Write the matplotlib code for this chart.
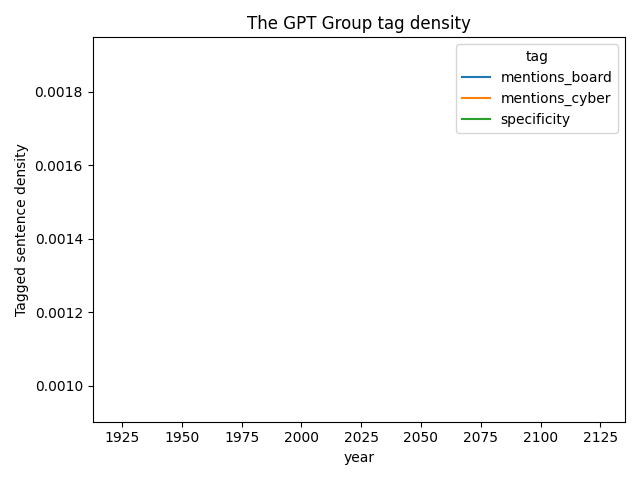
import matplotlib
matplotlib.use('Agg')
import matplotlib.pyplot as plt

# One filing year only, so each series is a single point (lines don't show)
years = [2024]
tags = ['mentions_board', 'mentions_cyber', 'specificity']
mentions_board = [0.00095]
mentions_cyber = [0.0019]
specificity = [0.0014]

series = {
    'mentions_board': mentions_board,
    'mentions_cyber': mentions_cyber,
    'specificity': specificity,
}

fig, ax = plt.subplots(figsize=(6.4, 4.8), dpi=100)
for tag in tags:
    ax.plot(years, series[tag], label=tag)

ax.set_title('The GPT Group tag density')
ax.set_xlabel('year')
ax.set_ylabel('Tagged sentence density')
ax.legend(title='tag')
fig.tight_layout()
fig.savefig('out.png')
